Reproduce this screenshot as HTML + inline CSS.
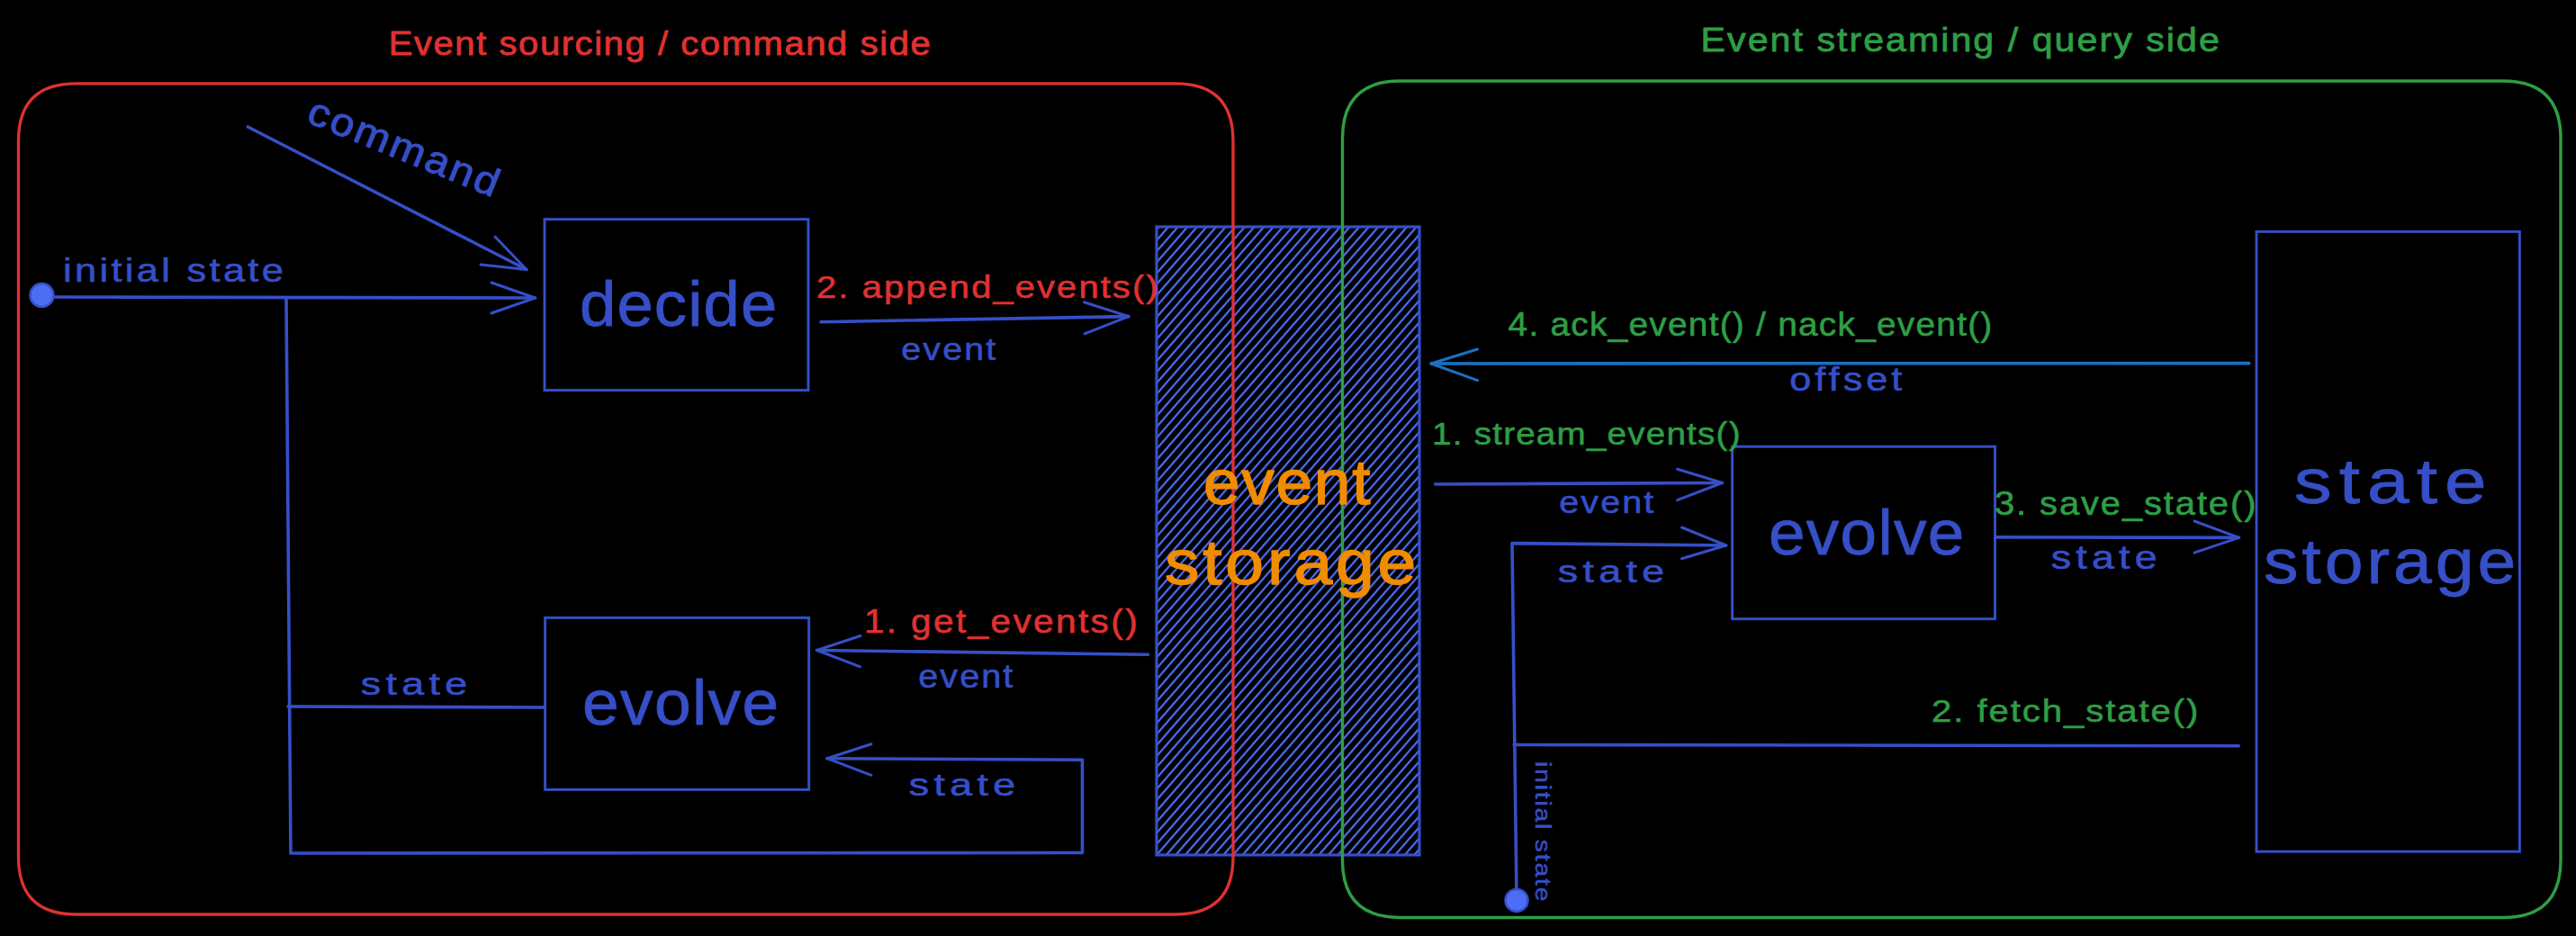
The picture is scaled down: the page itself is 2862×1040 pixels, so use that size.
<!DOCTYPE html>
<html><head><meta charset="utf-8"><style>
html,body{margin:0;padding:0;background:#000;width:2862px;height:1040px;overflow:hidden}
svg{display:block}
text{font-family:"Liberation Sans", sans-serif}
</style></head><body>
<svg width="2862" height="1040" viewBox="0 0 2862 1040">
<rect width="2862" height="1040" fill="#000"/>
<defs><pattern id="hatch" patternUnits="userSpaceOnUse" width="8" height="8" patternTransform="rotate(-49)">
<rect x="0" y="0" width="8" height="2.2" fill="#4c6ef5"/></pattern></defs>
<rect x="1285" y="252" width="292" height="698" fill="url(#hatch)"/>
<rect x="1285.0" y="252.0" width="292.0" height="698.0" rx="0" fill="none" stroke="#364fc7" stroke-width="3.2"/>
<path d="M84.5 92.8 L1306 92.8 Q1370 92.8 1370 156.8 L1370 952 Q1370 1016 1306 1016 L84.5 1016 Q20.5 1016 20.5 952 L20.5 156.8 Q20.5 92.8 84.5 92.8 Z" fill="none" stroke="#e03131" stroke-width="3.3"/>
<path d="M1555.5 90 L2781 90 Q2845 90 2845 154 L2845 955.5 Q2845 1019.5 2781 1019.5 L1555.5 1019.5 Q1491.5 1019.5 1491.5 955.5 L1491.5 154 Q1491.5 90 1555.5 90 Z" fill="none" stroke="#2f9e44" stroke-width="3.4"/>
<text x="0" y="0" font-size="37" fill="#e03131" font-weight="normal" stroke="#e03131" stroke-width="0.8" stroke-linejoin="round" textLength="556.4" lengthAdjust="spacing" transform="translate(431.7,61.0) scale(1.082,1)">Event sourcing / command side</text>
<text x="0" y="0" font-size="37" fill="#2f9e44" font-weight="normal" stroke="#2f9e44" stroke-width="0.8" stroke-linejoin="round" textLength="518.6" lengthAdjust="spacing" transform="translate(1889.6,57.0) scale(1.111,1)">Event streaming / query side</text>
<rect x="605.0" y="243.6" width="293.0" height="190.0" rx="0" fill="none" stroke="#364fc7" stroke-width="2.9"/>
<text x="0" y="0" font-size="70" fill="#364fc7" font-weight="normal" stroke="#364fc7" stroke-width="0.8" stroke-linejoin="round" textLength="211.6" lengthAdjust="spacing" transform="translate(644.0,362.0) scale(1.036,1)">decide</text>
<rect x="605.6" y="686.4" width="293.1" height="191.0" rx="0" fill="none" stroke="#364fc7" stroke-width="2.9"/>
<text x="0" y="0" font-size="70" fill="#364fc7" font-weight="normal" stroke="#364fc7" stroke-width="0.8" stroke-linejoin="round" textLength="209.1" lengthAdjust="spacing" transform="translate(646.9,805.0) scale(1.044,1)">evolve</text>
<path d="M46.0 330.0 L594.6 331.0" fill="none" stroke="#364fc7" stroke-width="3.6" stroke-linecap="round" stroke-linejoin="round"/>
<path d="M546.0 314.0 L594.6 331.0 L546.0 348.0" fill="none" stroke="#364fc7" stroke-width="3.0" stroke-linecap="round" stroke-linejoin="round"/>
<circle cx="46.5" cy="328" r="13" fill="#4c6ef5" stroke="#364fc7" stroke-width="2.5"/>
<text x="0" y="0" font-size="36" fill="#364fc7" font-weight="normal" stroke="#364fc7" stroke-width="0.6" stroke-linejoin="round" textLength="202.8" lengthAdjust="spacing" transform="translate(70.1,313.0) scale(1.207,1)">initial state</text>
<path d="M275.4 141.0 L585.0 299.5" fill="none" stroke="#364fc7" stroke-width="3.6" stroke-linecap="round" stroke-linejoin="round"/>
<path d="M550.0 263.0 L585.0 299.5 L534.0 294.0" fill="none" stroke="#364fc7" stroke-width="3.0" stroke-linecap="round" stroke-linejoin="round"/>
<path d="M318.0 331.0 L323.0 948.0 L1202.5 947.5 L1202.5 844.3 L918.8 842.7" fill="none" stroke="#364fc7" stroke-width="3.6" stroke-linecap="round" stroke-linejoin="round"/>
<path d="M968.0 826.7 L918.8 842.7 L968.0 861.3" fill="none" stroke="#364fc7" stroke-width="3.0" stroke-linecap="round" stroke-linejoin="round"/>
<path d="M320.0 785.0 L605.0 786.0" fill="none" stroke="#364fc7" stroke-width="3.6" stroke-linecap="round" stroke-linejoin="round"/>
<text x="0" y="0" font-size="36" fill="#364fc7" font-weight="normal" stroke="#364fc7" stroke-width="0.6" stroke-linejoin="round" textLength="95.0" lengthAdjust="spacing" transform="translate(400.8,772.0) scale(1.245,1)">state</text>
<text x="0" y="0" font-size="36" fill="#364fc7" font-weight="normal" stroke="#364fc7" stroke-width="0.6" stroke-linejoin="round" textLength="95.0" lengthAdjust="spacing" transform="translate(1009.8,884.4) scale(1.245,1)">state</text>
<path d="M912.0 357.7 L1254.0 351.6" fill="none" stroke="#364fc7" stroke-width="3.6" stroke-linecap="round" stroke-linejoin="round"/>
<path d="M1204.5 335.7 L1254.0 351.6 L1205.0 370.8" fill="none" stroke="#364fc7" stroke-width="3.0" stroke-linecap="round" stroke-linejoin="round"/>
<text x="0" y="0" font-size="36" fill="#e03131" font-weight="normal" stroke="#e03131" stroke-width="0.6" stroke-linejoin="round" textLength="342.0" lengthAdjust="spacing" transform="translate(907.0,331.0) scale(1.110,1)">2. append_events()</text>
<text x="0" y="0" font-size="36" fill="#364fc7" font-weight="normal" stroke="#364fc7" stroke-width="0.6" stroke-linejoin="round" textLength="95.6" lengthAdjust="spacing" transform="translate(1001.3,400.0) scale(1.098,1)">event</text>
<path d="M1275.6 727.3 L907.6 722.5" fill="none" stroke="#364fc7" stroke-width="3.6" stroke-linecap="round" stroke-linejoin="round"/>
<path d="M956.0 706.5 L907.6 722.5 L955.7 740.8" fill="none" stroke="#364fc7" stroke-width="3.0" stroke-linecap="round" stroke-linejoin="round"/>
<text x="0" y="0" font-size="36" fill="#e03131" font-weight="normal" stroke="#e03131" stroke-width="0.6" stroke-linejoin="round" textLength="269.3" lengthAdjust="spacing" transform="translate(959.9,703.0) scale(1.128,1)">1. get_events()</text>
<text x="0" y="0" font-size="36" fill="#364fc7" font-weight="normal" stroke="#364fc7" stroke-width="0.6" stroke-linejoin="round" textLength="95.2" lengthAdjust="spacing" transform="translate(1020.3,764.0) scale(1.103,1)">event</text>
<text x="0" y="0" font-size="70" fill="#f08c00" font-weight="normal" stroke="#f08c00" stroke-width="1.4" stroke-linejoin="round" textLength="177.3" lengthAdjust="spacing" transform="translate(1336.9,560.0) scale(1.047,1)">event</text>
<text x="0" y="0" font-size="70" fill="#f08c00" font-weight="normal" stroke="#f08c00" stroke-width="1.4" stroke-linejoin="round" textLength="254.3" lengthAdjust="spacing" transform="translate(1293.9,649.0) scale(1.099,1)">storage</text>
<rect x="1924.6" y="496.2" width="291.9" height="191.5" rx="0" fill="none" stroke="#364fc7" stroke-width="2.9"/>
<text x="0" y="0" font-size="70" fill="#364fc7" font-weight="normal" stroke="#364fc7" stroke-width="0.8" stroke-linejoin="round" textLength="208.6" lengthAdjust="spacing" transform="translate(1964.9,615.6) scale(1.042,1)">evolve</text>
<rect x="2507.0" y="257.4" width="292.4" height="688.8" rx="0" fill="none" stroke="#364fc7" stroke-width="2.9"/>
<text x="0" y="0" font-size="70" fill="#364fc7" font-weight="normal" stroke="#364fc7" stroke-width="0.8" stroke-linejoin="round" textLength="178.9" lengthAdjust="spacing" transform="translate(2548.7,559.0) scale(1.196,1)">state</text>
<text x="0" y="0" font-size="70" fill="#364fc7" font-weight="normal" stroke="#364fc7" stroke-width="0.8" stroke-linejoin="round" textLength="255.2" lengthAdjust="spacing" transform="translate(2514.9,648.0) scale(1.099,1)">storage</text>
<path d="M2498.8 403.6 L1590.0 404.0" fill="none" stroke="#1971c2" stroke-width="3.6" stroke-linecap="round" stroke-linejoin="round"/>
<path d="M1641.5 388.0 L1590.0 404.0 L1641.5 422.7" fill="none" stroke="#1971c2" stroke-width="3.0" stroke-linecap="round" stroke-linejoin="round"/>
<text x="0" y="0" font-size="36" fill="#2f9e44" font-weight="normal" stroke="#2f9e44" stroke-width="0.6" stroke-linejoin="round" textLength="499.7" lengthAdjust="spacing" transform="translate(1675.6,373.0) scale(1.076,1)">4. ack_event() / nack_event()</text>
<text x="0" y="0" font-size="36" fill="#364fc7" font-weight="normal" stroke="#364fc7" stroke-width="0.6" stroke-linejoin="round" textLength="104.4" lengthAdjust="spacing" transform="translate(1988.2,434.0) scale(1.199,1)">offset</text>
<path d="M1594.6 538.0 L1913.5 536.5" fill="none" stroke="#364fc7" stroke-width="3.6" stroke-linecap="round" stroke-linejoin="round"/>
<path d="M1863.6 521.3 L1913.5 536.5 L1863.6 555.7" fill="none" stroke="#364fc7" stroke-width="3.0" stroke-linecap="round" stroke-linejoin="round"/>
<text x="0" y="0" font-size="36" fill="#2f9e44" font-weight="normal" stroke="#2f9e44" stroke-width="0.6" stroke-linejoin="round" textLength="319.4" lengthAdjust="spacing" transform="translate(1591.1,494.0) scale(1.072,1)">1. stream_events()</text>
<text x="0" y="0" font-size="36" fill="#364fc7" font-weight="normal" stroke="#364fc7" stroke-width="0.6" stroke-linejoin="round" textLength="95.6" lengthAdjust="spacing" transform="translate(1732.3,570.0) scale(1.098,1)">event</text>
<path d="M1685.0 1000.0 L1680.0 603.6 L1917.7 606.0" fill="none" stroke="#364fc7" stroke-width="3.6" stroke-linecap="round" stroke-linejoin="round"/>
<path d="M1868.5 586.0 L1917.7 606.0 L1868.5 620.8" fill="none" stroke="#364fc7" stroke-width="3.0" stroke-linecap="round" stroke-linejoin="round"/>
<text x="0" y="0" font-size="36" fill="#364fc7" font-weight="normal" stroke="#364fc7" stroke-width="0.6" stroke-linejoin="round" textLength="95.0" lengthAdjust="spacing" transform="translate(1730.8,647.0) scale(1.245,1)">state</text>
<path d="M1682.0 827.5 L2487.3 828.8" fill="none" stroke="#364fc7" stroke-width="3.6" stroke-linecap="round" stroke-linejoin="round"/>
<circle cx="1685" cy="1000.4" r="12.5" fill="#4c6ef5" stroke="#364fc7" stroke-width="2.5"/>
<text x="0" y="0" font-size="36" fill="#2f9e44" font-weight="normal" stroke="#2f9e44" stroke-width="0.6" stroke-linejoin="round" textLength="266.1" lengthAdjust="spacing" transform="translate(2146.0,802.0) scale(1.114,1)">2. fetch_state()</text>
<text x="0" y="0" font-size="24" fill="#364fc7" font-weight="normal" stroke="#364fc7" stroke-width="0.5" stroke-linejoin="round" textLength="132.4" lengthAdjust="spacing" transform="translate(1715,924) rotate(90) translate(-77.9,9.0) scale(1.172,1)">initial state</text>
<path d="M2217.8 596.9 L2487.6 597.4" fill="none" stroke="#364fc7" stroke-width="3.6" stroke-linecap="round" stroke-linejoin="round"/>
<path d="M2438.0 579.0 L2487.6 597.4 L2438.0 614.2" fill="none" stroke="#364fc7" stroke-width="3.0" stroke-linecap="round" stroke-linejoin="round"/>
<text x="0" y="0" font-size="36" fill="#2f9e44" font-weight="normal" stroke="#2f9e44" stroke-width="0.6" stroke-linejoin="round" textLength="261.9" lengthAdjust="spacing" transform="translate(2216.0,571.5) scale(1.109,1)">3. save_state()</text>
<text x="0" y="0" font-size="36" fill="#364fc7" font-weight="normal" stroke="#364fc7" stroke-width="0.6" stroke-linejoin="round" textLength="94.8" lengthAdjust="spacing" transform="translate(2278.8,631.6) scale(1.243,1)">state</text>
<text x="0" y="0" font-size="44" fill="#364fc7" font-weight="normal" stroke="#364fc7" stroke-width="0.9" stroke-linejoin="round" textLength="208.3" lengthAdjust="spacing" transform="translate(448,164) rotate(22) translate(-112.0,14.0) scale(1.080,1)">command</text>
</svg>
</body></html>
